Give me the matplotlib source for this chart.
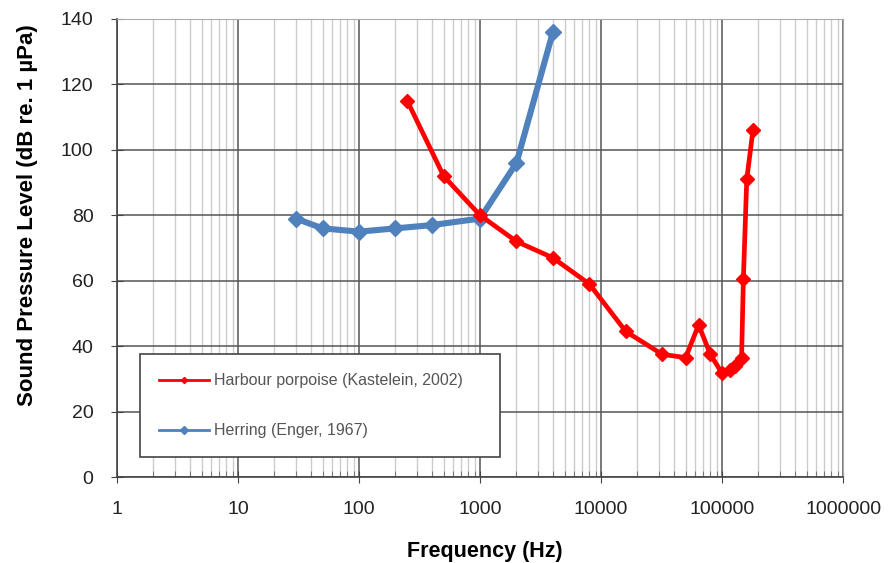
import numpy as np
import matplotlib.pyplot as plt
from matplotlib.ticker import FixedLocator, LogLocator, NullFormatter

plt.rcParams['font.family'] = ['Liberation Sans', 'DejaVu Sans']

# Hearing thresholds
porpoise_freq = [250, 500, 1000, 2000, 4000, 8000, 16000, 32000, 50000, 64000,
                 80000, 100000, 117000, 128000, 145000, 150000, 160000, 180000]
porpoise_spl = [115, 92, 80, 72, 67, 59, 44.5, 37.5, 36.5, 46.5,
                37.5, 31.7, 32.7, 34, 36.5, 60.5, 91, 106]

herring_freq = [30, 50, 100, 200, 400, 1000, 2000, 4000]
herring_spl = [79, 76, 75, 76, 77, 79, 96, 136]

x_ticks = [1, 10, 100, 1000, 10000, 100000, 1000000]
y_ticks = [0, 20, 40, 60, 80, 100, 120, 140]

fig = plt.figure(figsize=(8.88, 5.63), dpi=100)
ax = fig.add_axes([0.1318, 0.1527, 0.8176, 0.8136])

ax.plot(porpoise_freq, porpoise_spl, color='#ff0000', lw=3.4, marker='D',
        ms=7, label='Harbour porpoise (Kastelein, 2002)', zorder=4)
ax.plot(herring_freq, herring_spl, color='#4f81bd', lw=4.4, marker='D',
        ms=8, label='Herring (Enger, 1967)', zorder=3)

ax.set_xscale('log')
ax.set_xlim(1, 1e6)
ax.set_ylim(0, 140)
ax.xaxis.set_major_locator(FixedLocator(x_ticks))
ax.set_xticklabels([str(v) for v in x_ticks])
ax.xaxis.set_minor_locator(LogLocator(base=10, subs=np.arange(2, 10), numticks=20))
ax.xaxis.set_minor_formatter(NullFormatter())
ax.set_yticks(y_ticks)

ax.grid(which='major', axis='both', color='#555555', lw=1.1)
ax.grid(which='minor', axis='x', color='#cccccc', lw=1.0)
ax.set_axisbelow(True)

for side in ['top', 'right']:
    ax.spines[side].set_color('#aaaaaa')
for side in ['left', 'bottom']:
    ax.spines[side].set_color('#444444')
    ax.spines[side].set_linewidth(1.2)

ax.tick_params(which='major', direction='inout', length=8, color='#444444',
               labelsize=14, labelcolor='#222222')
ax.tick_params(which='minor', direction='in', length=4, color='#666666')
ax.tick_params(axis='x', pad=13)
ax.tick_params(axis='y', pad=13)

ax.set_xlabel('Frequency (Hz)', fontsize=15.5, fontweight='bold')
ax.set_ylabel('Sound Pressure Level (dB re. 1 µPa)', fontsize=16,
              fontweight='bold')
ax.xaxis.set_label_coords(0.507, -0.14)
ax.yaxis.set_label_coords(-0.109, 0.572)

leg = ax.legend(loc='upper left', bbox_to_anchor=(0.0317, 0.0459, 0.496, 0.2227),
                mode='expand', fontsize=11.5, markerscale=0.45, handlelength=3.1,
                labelspacing=2.2, borderpad=1.2, fancybox=False, framealpha=1,
                edgecolor='#444444', handletextpad=0.3, borderaxespad=0)
leg.get_frame().set_linewidth(1.2)
for txt in leg.get_texts():
    txt.set_color('#555555')
for h in leg.legend_handles:
    h.set_linewidth(2)

plt.savefig('out.png', dpi=100)
